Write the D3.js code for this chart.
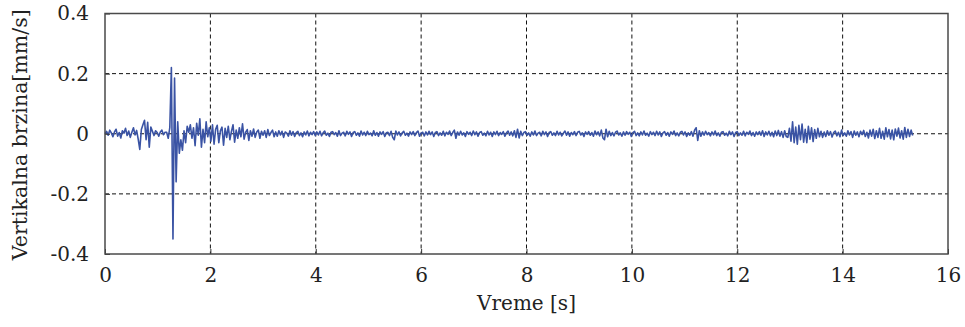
<!DOCTYPE html>
<html>
<head>
<meta charset="utf-8">
<script src="https://cdn.jsdelivr.net/npm/d3@7"></script>
<style>
  html, body { margin: 0; padding: 0; background: #fff; }
  svg { display: block; font-family: "DejaVu Serif", serif; }
</style>
</head>
<body>
<div id="chart"></div>
<script>
// sample spacing of the record [s]
const dt = 0.03;

// vertical velocity in µm/s (1000 µm/s = 1 mm/s), segment by segment
const preEvent = [0, 8, -5, 12, 3, -10, 6, 15, -8, 4, -14, 10, 2, 18, -6, 9, -12, 5, 20, -4,
  11, -18, -52, 14, 30, 45, -20, 38, -45, 22, 8, -6, 10, 4, -8, 6, 12, -3, 5];
const mainPulse = [5, -15, 20, 220, -350, 185, -160, 40, -65, -20, -55, 10, -30, 25, 5, 30,
  -15, 20, -40, 35, -5, 50, -45, 15, -30, 40, -10, 20];
const coda = [-25, 30, -35, 15, 28, -30, 10, 22, -38, 18, -12, 25, -20, 8, 30, -28, 12, -15, 20, -10,
  33, -18, 5, 14, -22, 10, -8, 16, -12, 6, 12, -15, 8, -5, 10, -12, 14, -6, 4, 12,
  -10, 6, -8, 10, -4, 8, -12, 6, 2, -8, 10, -5, 7, -9, 4, 8, -6, 3, -10, 6,
  -4, 9, -7, 5, -3, 7, -6];
const quiet = [
  6, -4, 8, -7, 3, 9, -5, 2, -9, 5,
  7, -3, 4, -8, 10, -6, 2, 5, -7, 8,
  -2, 6, -9, 4, 7, -5, 3, -8, 9, -4,
  5, -6, 8, -3, 2, -7, 10, -5, 4, -8,
  6, -2, 7, -9, 3, 5, -6, 8, -12, -20,
  9, -4, 6, -7, 3, 8, -5, 2, -8, 6,
  -3, 7, -6, 4, 9, -8, 2, 5, -7, 6,
  -4, 8, -3, 6, -9, 4, 7, -6, 3, -5,
  8, -7, 5, -2, 9, -6, 4, 12, -15, 6,
  -5, 8, -4, 3, -9, 7, -2, 5, -6, 9,
  -3, 6, -8, 4, 7, -5, 2, -7, 8, -4,
  5, -9, 6, -3, 8, -6, 4, -2, 7, -8,
  3, 9, -5, 6, -7, 10, -12, 15, -14, 8,
  -6, 4, 7, -5, 3, -8, 6, -4, 9, -6,
  2, 5, -7, 8, -3, 6, -9, 4, 7, -5,
  3, -6, 8, -4, 5, -7, 2, 9, -5, 6,
  -8, 4, -3, 7, -6, 5, 8, -4, 3, -9,
  6, -2, 7, -5, 4, -8, 9, -3, 6, -7,
  12, -14, -20, 15, -10, 8, -6, 4, -7, 5,
  9, -4, 3, -8, 6, -5, 7, -2, 5, -9,
  4, 8, -6, 3, -7, 6, -4, 9, -5, 2,
  -8, 7, -3, 5, -6, 8, -4, 6, -9, 3,
  7, -5, 4, -8, 6, -2, 9, -6, 3, -7,
  5, 8, -4, 6, -9, 3, -5, 7, -8, 12,
  20, -22, 10, -8, 6, -5, 8, -3, 4, -7,
  6, -4, 9, -6, 3, -8, 5, 7, -5, 2,
  -7, 8, -3, 6, -9, 4, 7, -6, 3, -5,
  8, -7, 5, -2, 9, -6, 4, -8, 6, -3,
  7, -5, 10, -9, 6, -4, 8, -7, 5, -10,
  9, -6, 11, -8, 7, -12, 10, -9];
const burst = [-12, 18, -25, 40, -30, 22, -35, 28, -20, 32, -28, 15, -30, 25, -18, 20, -26, 14, -15, 18, -10];
const tail = [8, -12, 6, -9, 10, -5, 7, -11, 4, 9,
  -7, 5, -10, 12, -6, 3, -8, 10, -4, 7,
  -12, 9, -5, 6, -10, 8, -3, 11, -9, 5,
  -14, 12, -8, 15, -16, 10, -12, 18, -15, 8,
  -18, 20, -10, 14, -17, 12, -20, 16, -8, 19,
  -14, 10, -18, 21, -12, 15, -9, 12, -6];

const xTicks = [0, 2, 4, 6, 8, 10, 12, 14, 16];
const yTicks = [-0.4, -0.2, 0, 0.2, 0.4];
const yTickLabels = ['-0.4', '-0.2', '0', '0.2', '0.4'];

const W = 965, H = 327;
const margin = { top: 13.5, right: 17, bottom: 73, left: 105 };
const iw = W - margin.left - margin.right;
const ih = H - margin.top - margin.bottom;
const serif = '"DejaVu Serif", serif';

const series = [...preEvent, ...mainPulse, ...coda, ...quiet, ...burst, ...tail]
  .map((v, i) => ({ t: i * dt, v: v / 1000 }));

const x = d3.scaleLinear().domain([0, 16]).range([0, iw]);
const y = d3.scaleLinear().domain([-0.4, 0.4]).range([ih, 0]);

const svg = d3.select('#chart').append('svg')
  .attr('width', W).attr('height', H);

const g = svg.append('g').attr('transform', `translate(${margin.left},${margin.top})`);

// grid
g.append('g').selectAll('line').data(xTicks.slice(1, -1)).join('line')
  .attr('x1', d => x(d)).attr('x2', d => x(d))
  .attr('y1', 0).attr('y2', ih)
  .attr('stroke', '#111').attr('stroke-width', 1).attr('stroke-dasharray', '4,3');
g.append('g').selectAll('line').data(yTicks.slice(1, -1)).join('line')
  .attr('x1', 0).attr('x2', iw)
  .attr('y1', d => y(d)).attr('y2', d => y(d))
  .attr('stroke', '#111').attr('stroke-width', 1).attr('stroke-dasharray', '4,3');

// signal
g.append('path').datum(series)
  .attr('fill', 'none')
  .attr('stroke', '#3a53a4')
  .attr('stroke-width', 1.6)
  .attr('stroke-linejoin', 'round')
  .attr('d', d3.line().x(d => x(d.t)).y(d => y(d.v)));

// axes: inward ticks, labels outside
const xAxis = g.append('g').attr('transform', `translate(0,${ih})`)
  .call(d3.axisBottom(x).tickValues(xTicks).tickSize(-5).tickPadding(14).tickFormat(d3.format('d')));
const yAxis = g.append('g')
  .call(d3.axisLeft(y).tickValues(yTicks).tickSize(-5).tickPadding(16)
    .tickFormat((d, i) => yTickLabels[i]));
[xAxis, yAxis].forEach(a => {
  a.select('.domain').remove();
  a.selectAll('line').attr('stroke', '#333').attr('stroke-width', 1);
  a.selectAll('text').attr('fill', '#222').style('font-size', '20px')
    .style('font-family', serif);
});
xAxis.selectAll('text').attr('dy', '0.71em');

// frame
g.append('rect').attr('x', 0).attr('y', 0).attr('width', iw).attr('height', ih)
  .attr('fill', 'none').attr('stroke', '#4a4a4a').attr('stroke-width', 1.5);

// axis titles
svg.append('text')
  .attr('x', margin.left + iw / 2).attr('y', 310)
  .attr('text-anchor', 'middle').attr('fill', '#222')
  .style('font-size', '20px').text('Vreme [s]');
svg.append('text')
  .attr('transform', `translate(27,${margin.top + ih / 2 + 1}) rotate(-90)`)
  .attr('text-anchor', 'middle').attr('fill', '#222')
  .style('font-size', '20.5px').text('Vertikalna brzina[mm/s]');
</script>
</body>
</html>
